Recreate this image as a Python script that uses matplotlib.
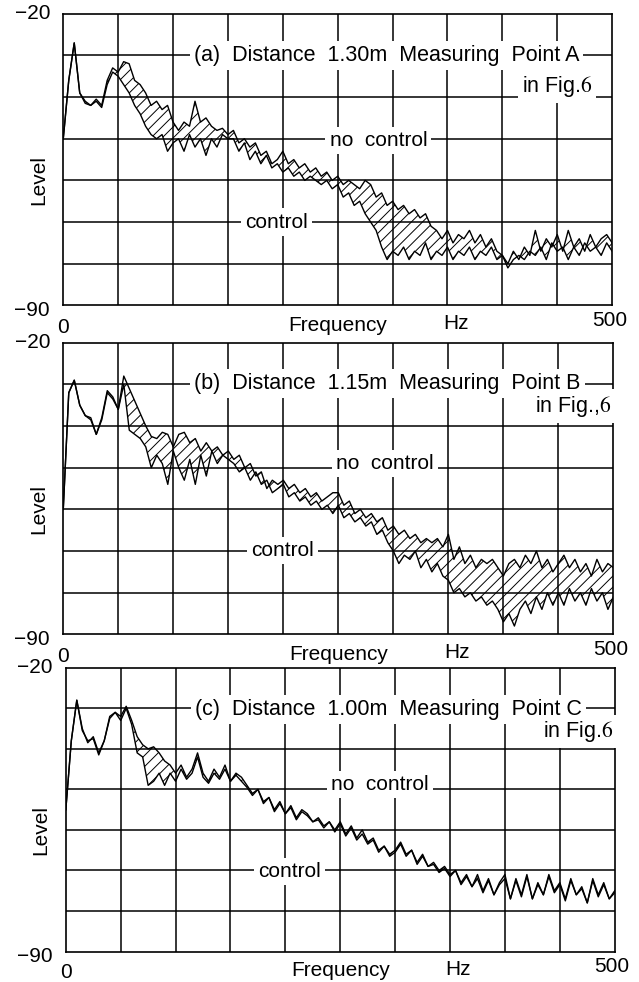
import matplotlib
matplotlib.use('Agg')
import matplotlib.pyplot as plt
import numpy as np

plt.rcParams['font.family'] = ['Liberation Sans', 'DejaVu Sans']
plt.rcParams['mathtext.fontset'] = 'stix'
plt.rcParams['hatch.linewidth'] = 0.7

# frequency bins, 5 Hz apart
freq = np.arange(0, 501, 5)

# (a) distance 1.30m, point A
a_nocontrol = [-50, -36, -27, -39, -41, -42, -40.5, -42, -36, -33, -34, -31.5, -32, -36, -37, -39, -42, -41, -43, -42,
               -46, -48, -46, -47, -41, -46, -45, -47, -48, -47.5, -49, -48, -51, -50, -52, -51, -54, -53, -56, -55,
               -53, -56, -55, -57, -56, -58, -57, -59, -58, -60, -59, -61, -60, -61, -62, -60, -61, -64, -63, -66,
               -65, -67, -66, -68, -67, -69, -68, -71, -72, -74, -72, -75, -73, -74, -72, -75, -73, -76, -74, -77,
               -78, -80, -77, -79, -76, -78, -72, -77, -74, -76, -73, -77, -72, -76, -74, -77, -73, -76, -74, -73, -75]
a_control = [-50, -36, -27, -39, -41.5, -42, -41, -42.5, -37, -34, -35, -37, -39, -42, -44, -47, -49, -50, -49, -53,
             -51, -50, -53, -49, -52, -50, -54, -50, -52, -49, -50, -50, -53, -51, -55, -53, -56, -54, -57, -56,
             -58, -57, -59, -58, -60, -59, -60, -61, -60, -62, -61, -64, -63, -66, -65, -68, -70, -72, -76, -79,
             -77, -78, -76, -79, -77, -78, -75, -79, -77, -78, -76, -79, -77, -78, -76, -79, -77, -78, -76, -79,
             -78, -81, -79, -78, -79, -77, -78, -76, -79, -75, -77, -76, -79, -76, -78, -75, -77, -76, -78, -75, -77]

# (b) distance 1.15m, point B
b_nocontrol = [-60, -32, -29, -35, -37.5, -38, -42, -38, -31.5, -33, -36, -28, -31, -34, -37, -40, -42.5, -43, -41.5, -42,
               -45, -42, -41.5, -44, -43, -46, -44, -46, -45, -47, -46, -48, -47, -50, -49, -52, -51, -55, -53, -54,
               -53, -55, -54, -56, -55, -57, -56, -58, -57, -56, -56, -59, -58, -61, -60, -62, -61, -63, -62, -65,
               -64, -66, -65, -67, -66, -68, -67, -68, -67, -69, -66, -72, -69, -73, -71, -74, -72, -73, -72, -74,
               -76, -73, -72, -74, -71, -73, -70, -74, -72, -75, -73, -71, -74, -72, -75, -73, -76, -72, -75, -73, -74]
b_control = [-60, -32, -29, -35, -37.5, -38.5, -42, -38.5, -32, -33.5, -36, -30, -41, -42, -43, -45, -50, -47, -49, -54,
             -46, -50, -53, -48, -54, -47, -52, -46, -49, -47, -48, -49, -51, -50, -53, -51, -54, -53, -56, -55,
             -54, -57, -56, -58, -57, -59, -58, -60, -59, -61, -59, -62, -61, -63, -62, -64, -63, -66, -65, -68,
             -70, -73, -71, -72, -70, -74, -72, -75, -73, -76, -77, -80, -79, -81, -80, -82, -81, -83, -82, -84,
             -87, -85, -88, -84, -82, -85, -81, -84, -80, -83, -80, -83, -79, -82, -80, -83, -79, -82, -80, -84, -81]

# (c) distance 1.00m, point C
c_nocontrol = [-55, -38, -28, -35, -38.5, -37, -41, -38, -32, -31, -32, -29.5, -33, -37, -39, -40, -39.5, -41, -43, -44,
               -46, -44, -47, -45, -41, -46, -48, -45, -47, -44, -48, -46, -47, -49, -51, -50, -53, -52, -55, -53,
               -56, -54, -57, -55, -56, -58, -57, -59, -58, -60, -58, -61, -59, -62, -60, -63, -62, -65, -64, -66,
               -65, -63, -66, -65, -68, -66, -69, -68, -70, -69, -71, -70, -73, -71, -74, -71, -75, -72, -76, -73,
               -71, -77, -72, -76, -71, -77, -73, -76, -71, -75, -73, -77, -72, -76, -74, -78, -72, -76, -73, -77, -75]
c_control = [-55, -38, -28, -35.5, -38, -37.5, -41.5, -38, -32.5, -31, -33, -30, -34, -41, -42, -49, -48, -46, -49, -46,
             -48, -45, -47.5, -46, -42, -47, -48.5, -46, -47.5, -45, -48, -46.5, -48, -49.5, -51.5, -50, -53.5, -52, -55.5, -53.5,
             -56, -54.5, -57.5, -55.5, -56.5, -58, -57.5, -59.5, -58, -60.5, -58.5, -61.5, -59.5, -62.5, -61, -63.5, -62.5, -65.5, -64, -66.5,
             -65.5, -63.5, -66.5, -65, -68.5, -66.5, -69, -68.5, -70.5, -69.5, -71.5, -70, -73.5, -71.5, -74, -72, -75.5, -72.5, -76, -73.5,
             -72, -77, -72.5, -76.5, -71.5, -77, -73.5, -76, -71.5, -75.5, -73.5, -77.5, -72.5, -76, -74.5, -78, -72.5, -76.5, -73.5, -77, -75.5]

titles = ['(a)  Distance  1.30m  Measuring  Point A',
          '(b)  Distance  1.15m  Measuring  Point B',
          '(c)  Distance  1.00m  Measuring  Point C']
figrefs = ['in Fig.$\\it{6}$', 'in Fig.,$\\it{6}$', 'in Fig.$\\it{6}$']

panels = [(a_nocontrol, a_control), (b_nocontrol, b_control), (c_nocontrol, c_control)]
# text anchors per panel: (title y, fig-ref x, fig-ref y, "no control" x, y, "control" x, y)
spots = [(-30, 482, -37.4, 287, -50.5, 194, -70),
         (-29.8, 498, -35.2, 292, -49, 199, -69.9),
         (-30.2, 499, -35.8, 286, -48.8, 204, -70.2)]
# [left, bottom, width, height] for each panel
boxes = [[0.099, 0.689, 0.859, 0.297],
         [0.099, 0.354, 0.861, 0.297],
         [0.103, 0.031, 0.859, 0.289]]

fig = plt.figure(figsize=(6.39, 9.82), dpi=100)
white = dict(facecolor='white', edgecolor='none', pad=3)
fs = 15

for k in range(3):
    nc, ct = np.array(panels[k][0]), np.array(panels[k][1])
    ty, rx, ry, nx, ny, cx, cy = spots[k]
    ax = fig.add_axes(boxes[k])
    ax.set_xlim(0, 500)
    ax.set_ylim(-90, -20)
    for x in range(50, 500, 50):
        ax.axvline(x, color='k', lw=1.1, zorder=1)
    for y in range(-80, -20, 10):
        ax.axhline(y, color='k', lw=1.1, zorder=1)

    ax.plot(freq, nc, color='k', lw=1.0, zorder=5)
    ax.plot(freq, ct, color='k', lw=1.0, zorder=5)
    ax.fill_between(freq, ct, nc, where=nc > ct, interpolate=True,
                    facecolor='none', edgecolor='k', hatch='///', lw=0, zorder=4)

    ax.text(470, ty, titles[k], ha='right', va='center', fontsize=15.5, zorder=3, bbox=white)
    ax.text(rx, ry, figrefs[k], ha='right', va='center', fontsize=15.5, zorder=3, bbox=white)
    ax.text(nx, ny, 'no  control', ha='center', va='center', fontsize=fs, zorder=3, bbox=white)
    ax.text(cx, cy, 'control', ha='center', va='center', fontsize=fs, zorder=3, bbox=white)

    ax.set_xticks([])
    ax.set_yticks([])
    ax.text(-0.024, 1.0, '\u221220', transform=ax.transAxes, ha='right', va='center', fontsize=fs)
    ax.text(-0.024, -0.017, '\u221290', transform=ax.transAxes, ha='right', va='center', fontsize=fs)
    ax.text(0.0, -0.075, '0', transform=ax.transAxes, ha='center', va='center', fontsize=fs)
    ax.text(0.995, -0.052, '500', transform=ax.transAxes, ha='center', va='center', fontsize=fs)
    ax.text(0.50, -0.068, 'Frequency', transform=ax.transAxes, ha='center', va='center', fontsize=fs)
    ax.text(0.715, -0.062, 'Hz', transform=ax.transAxes, ha='center', va='center', fontsize=fs)
    ax.text(-0.045, 0.43, 'Level', transform=ax.transAxes, rotation=90, ha='center', va='center', fontsize=fs)
    for s in ax.spines.values():
        s.set_linewidth(1.2)

fig.savefig('out.png', dpi=100)
